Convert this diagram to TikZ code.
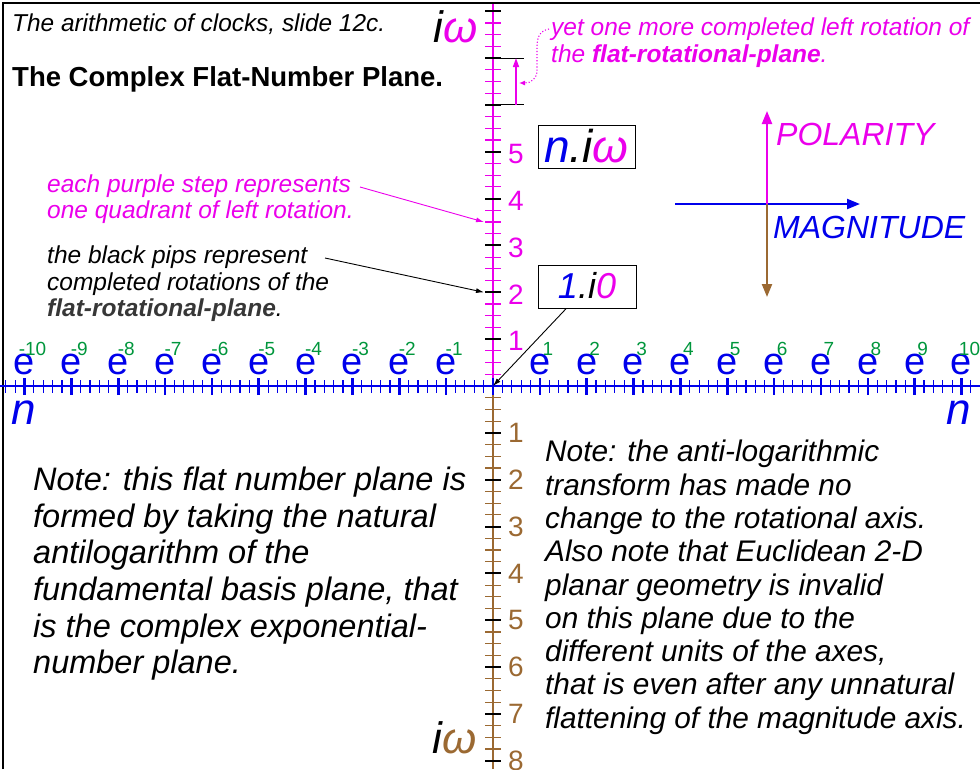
\documentclass[tikz,border=0pt]{standalone}
\usepackage{fontspec}
\setmainfont{Liberation Sans}
\usetikzlibrary{arrows.meta, positioning}
\definecolor{rotmag}{RGB}{235,0,235}
\definecolor{magblue}{RGB}{0,0,235}
\definecolor{negbrown}{RGB}{155,105,50}
\definecolor{expgreen}{RGB}{0,150,60}
\definecolor{pipgray}{RGB}{55,55,55}

\begin{document}
\begin{tikzpicture}[x=1pt, y=-1pt,
  minortick/.style={line width=1.2pt},
  majortick/.style={line width=2.6pt, magblue},
  pip/.style={line width=2pt, black},
  elabel/.style={font=\fontsize{38}{40}\selectfont, text=magblue, inner sep=0pt, anchor=base},
  explabel/.style={font=\fontsize{19}{20}\selectfont, text=expgreen, inner sep=0pt, anchor=base},
  numlabel/.style={font=\fontsize{28}{30}\selectfont, inner sep=0pt},
  valbox/.style={draw, line width=1pt, inner sep=0pt, font=\itshape},
  ann/.style={anchor=north west, align=left, inner sep=0pt, font=\itshape\fontsize{24.5}{26.5}\selectfont},
  note/.style={anchor=north west, align=left, inner sep=0pt},
  annarrow/.style={->, line width=0.9pt},
  legarrow/.style={-{Triangle[length=13pt,width=10pt]}, line width=2.2pt},
  >={Latex[length=8pt,width=5pt]}
]
\useasboundingbox (0,0) rectangle (980,769);
\def\ustep{46.85}

% --- ramka ---
\draw[line width=1.3pt] (3,769) -- (3,3) -- (980,3);

% --- os obrotowa (pionowa) ---
\coordinate (O) at (493,386);
\draw[rotmag, line width=2pt] (493,4) -- (O);
\draw[negbrown, line width=2pt] (O) -- (493,769);
\foreach \j in {1,...,32} {
  \draw[minortick, rotmag] (485,{386-\j*\ustep/4}) -- ++(16,0);
  \draw[minortick, negbrown] (485,{386+\j*\ustep/4}) -- ++(16,0);
}
\foreach \k in {0,...,8} {
  \draw[pip] (485,{386-\k*\ustep}) -- ++(16,0);
  \draw[pip] (485,{386+\k*\ustep}) -- ++(16,0);
}
\foreach \k in {1,...,5}
  \node[numlabel, text=rotmag] (p\k) at (516,{388-\k*\ustep}) {\k};
\foreach \k in {1,...,8}
  \node[numlabel, text=negbrown] (m\k) at (516,{386+\k*\ustep}) {\k};

% --- os wielkosci (pozioma) ---
\draw[magblue, line width=2pt] (0,386) -- (980,386);
\foreach \j in {-52,...,52}
  \draw[minortick, magblue] ({493+\j*\ustep/5},380) -- ++(0,13);
\foreach \k in {-10,...,10}
  \draw[majortick] ({493+\k*\ustep},378) -- ++(0,17);
\foreach \k in {-10,...,-1,1,2,...,10} {
  \node[elabel] (e\k) at ({493+\k*\ustep},374) {e};
  \node[explabel] (x\k) at ({501+\k*\ustep},355) {\k};
}

% --- nazwy osi ---
\node[anchor=base east, inner sep=0pt, font=\itshape\fontsize{44}{48}\selectfont] (iwtop) at (478,42) {i\textcolor{rotmag}{ω}};
\node[anchor=base east, inner sep=0pt, font=\itshape\fontsize{44}{48}\selectfont] (iwbot) at (477,753) {i\textcolor{negbrown}{ω}};
\node[anchor=base west, inner sep=0pt, text=magblue, font=\itshape\fontsize{44}{48}\selectfont] (nleft) at (11,424) {n};
\node[anchor=base east, inner sep=0pt, text=magblue, font=\itshape\fontsize{44}{48}\selectfont] (nright) at (971,424) {n};

% --- tytuly ---
\node[anchor=base west, inner sep=0pt, font=\itshape\fontsize{24.4}{28}\selectfont] (slide) at (12,31) {The arithmetic of clocks, slide 12c.};
\node[anchor=base west, inner sep=0pt, font=\bfseries\fontsize{27.5}{30}\selectfont] (title) at (12,86) {The Complex Flat-Number Plane.};

% --- ramki wartosci ---
\node[valbox, minimum width=97, minimum height=43, text height=35, text depth=4, font=\itshape\fontsize{46}{50}\selectfont] (bn) at (586.5,146.5) {\textcolor{magblue}{n}.i\textcolor{rotmag}{ω}};
\node[valbox, minimum width=98, minimum height=43, text height=28, text depth=4, font=\itshape\fontsize{36}{40}\selectfont] (b1) at (587,286.5) {\textcolor{magblue}{1}.i\textcolor{rotmag}{0}};
\draw[annarrow] (b1) -- (O);

% --- jeszcze jeden obrot ---
\coordinate (r6) at (485,{386-6*\ustep});
\coordinate (r7) at (485,{386-7*\ustep});
\draw[line width=1pt] (r6) -- ++(39,0);
\draw[line width=1pt] (r7) -- ++(39,0);
\draw[rotmag, line width=1.6pt, -{Triangle[length=9pt,width=6pt]}] ([xshift=31]r6) -- ([xshift=31]r7);
\node[ann, text=rotmag, font=\itshape\fontsize{24.5}{27}\selectfont] (yet) at (551,18)
  {yet one more completed left rotation of\\the \textbf{flat-rotational-plane}.};
\coordinate (yetstart) at (549,29);
\coordinate (yetend) at (519,83);
\draw[rotmag, dotted, line width=1.1pt, -{Latex[length=6pt,width=5pt]}] (yetstart) .. controls (539,31) and (537,38) .. (537,47) -- (537,70) .. controls (537,79) and (531,83) .. (yetend);

% --- objasnienia po lewej ---
\node[ann, text=rotmag, font=\itshape\fontsize{24.5}{25.5}\selectfont] (quad) at (47,175) {each purple step represents\\one quadrant of left rotation.};
\coordinate (quadtail) at (360,187);
\draw[annarrow, rotmag] (quadtail) -- (484,{386-3.5*\ustep});
\node[ann] (pips) at (47,246) {the black pips represent\\completed rotations of the\\\textcolor{pipgray}{\textbf{flat-rotational-plane}}.};
\coordinate (pipstail) at (325,258);
\draw[annarrow] (pipstail) -- (484,{386-2*\ustep});

% --- legenda ---
\coordinate (L) at (767,204);
\coordinate (Ltop) at (767,111);
\coordinate (Lbot) at (767,297);
\coordinate (Lleft) at (675,204);
\coordinate (Lright) at (860,204);
\draw[legarrow, magblue] (Lleft) -- (Lright);
\draw[legarrow, rotmag] (L) -- (Ltop);
\draw[legarrow, negbrown] (L) -- (Lbot);
\node[anchor=base west, inner sep=0pt, text=rotmag, font=\itshape\fontsize{32}{36}\selectfont] (pol) at (776,145) {POLARITY};
\node[anchor=base west, inner sep=0pt, text=magblue, font=\itshape\fontsize{32}{36}\selectfont] (mag) at (773,238) {MAGNITUDE};

% --- uwagi na dole ---
\node[note, font=\itshape\fontsize{32.5}{36.6}\selectfont] (noteL) at (33,467)
  {Note: this flat number plane is\\formed by taking the natural\\antilogarithm of the\\fundamental basis plane, that\\is the complex exponential-\\number plane.};
\node[note, font=\itshape\fontsize{29.8}{33.3}\selectfont] (noteR) at (545,440)
  {Note: the anti-logarithmic\\transform has made no\\change to the rotational axis.\\Also note that Euclidean 2-D\\planar geometry is invalid\\on this plane due to the\\different units of the axes,\\that is even after any unnatural\\flattening of the magnitude axis.};

\end{tikzpicture}
\end{document}
